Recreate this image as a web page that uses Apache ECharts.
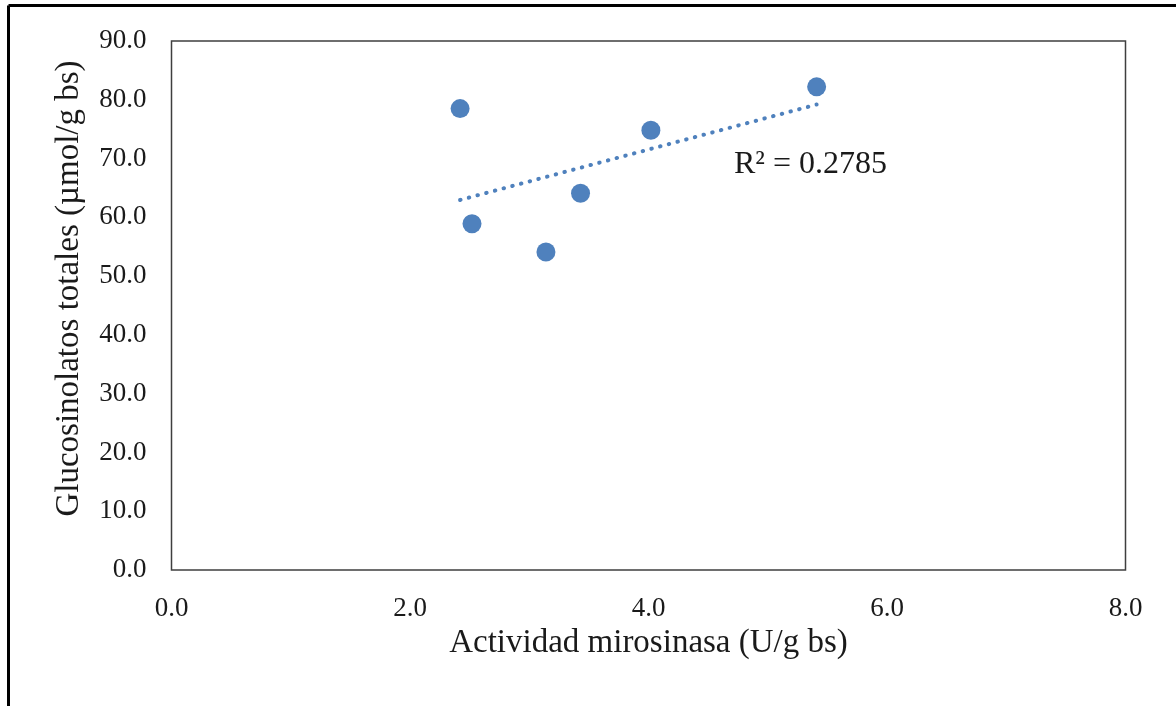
<!DOCTYPE html>
<html>
<head>
<meta charset="utf-8">
<script src="https://cdn.jsdelivr.net/npm/echarts@6/dist/echarts.min.js"></script>
<style>
  html, body { margin: 0; padding: 0; background: #fff; }
  #chart { width: 1176px; height: 706px; }
</style>
</head>
<body>
<div id="chart"></div>
<script>
// Data
const mirosinasa = [2.42, 2.52, 3.14, 3.43, 4.02, 5.41];      // U/g bs
const glucosinolatos = [78.5, 58.9, 54.1, 64.1, 74.8, 82.2];  // µmol/g bs
const xTitle = 'Actividad mirosinasa (U/g bs)';
const yTitle = 'Glucosinolatos totales (µmol/g bs)';
const r2Label = 'R² = 0.2785';

// Linear trendline (least squares), drawn from min x to max x as in Excel
const n = mirosinasa.length;
const mx = mirosinasa.reduce((a, b) => a + b, 0) / n;
const my = glucosinolatos.reduce((a, b) => a + b, 0) / n;
let sxy = 0, sxx = 0;
for (let i = 0; i < n; i++) {
  sxy += (mirosinasa[i] - mx) * (glucosinolatos[i] - my);
  sxx += (mirosinasa[i] - mx) ** 2;
}
const slope = sxy / sxx;
const intercept = my - slope * mx;
const xMin = Math.min(...mirosinasa), xMax = Math.max(...mirosinasa);
const trend = [[xMin, intercept + slope * xMin], [xMax, intercept + slope * xMax]];

const points = mirosinasa.map((x, i) => [x, glucosinolatos[i]]);
const FONT = '"Liberation Serif", "Times New Roman", serif';
const BLUE = '#4F81BD';

const chart = echarts.init(document.getElementById('chart'), null, { renderer: 'canvas' });
chart.setOption({
  backgroundColor: '#ffffff',
  animation: false,
  grid: {
    left: 171.5, right: 50.5, top: 41, bottom: 136,
    show: true, borderColor: '#3f3f3f', borderWidth: 1.5, backgroundColor: 'transparent'
  },
  xAxis: {
    type: 'value', min: 0, max: 8, interval: 2,
    axisLine: { show: false }, axisTick: { show: false }, splitLine: { show: false },
    axisLabel: {
      color: '#1a1a1a', fontFamily: FONT, fontSize: 27, margin: 25,
      formatter: v => v.toFixed(1)
    },
    name: xTitle, nameLocation: 'middle', nameGap: 56,
    nameTextStyle: { color: '#1a1a1a', fontFamily: FONT, fontSize: 33 }
  },
  yAxis: {
    type: 'value', min: 0, max: 90, interval: 10,
    axisLine: { show: false }, axisTick: { show: false }, splitLine: { show: false },
    axisLabel: {
      color: '#1a1a1a', fontFamily: FONT, fontSize: 27, margin: 25,
      padding: [6, 0, 0, 0],
      formatter: v => v.toFixed(1)
    },
    name: yTitle, nameLocation: 'middle', nameGap: 86,
    nameTextStyle: { color: '#1a1a1a', fontFamily: FONT, fontSize: 33, padding: [0, 0, 0, 34] }
  },
  series: [
    {
      type: 'line',
      data: trend,
      showSymbol: false,
      symbol: 'none',
      lineStyle: { color: BLUE, width: 4, type: [0.5, 8.5], cap: 'round' },
      silent: true,
      z: 2
    },
    {
      type: 'scatter',
      data: points,
      symbol: 'circle',
      symbolSize: 19,
      itemStyle: { color: BLUE, opacity: 1 },
      z: 3
    }
  ],
  graphic: [
    { type: 'line', shape: { x1: 8.5, y1: 5.5, x2: 1176, y2: 5.5 }, style: { stroke: '#000', lineWidth: 3 } },
    { type: 'line', shape: { x1: 8.5, y1: 5.5, x2: 8.5, y2: 706 }, style: { stroke: '#000', lineWidth: 3 } },
    {
      type: 'text', left: 734, top: 149,
      style: { text: r2Label, fill: '#1a1a1a', font: '32px ' + FONT }
    }
  ]
});
</script>
</body>
</html>
